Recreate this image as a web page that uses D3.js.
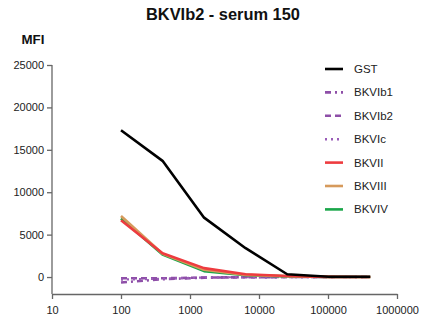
<!DOCTYPE html>
<html>
<head>
<meta charset="utf-8">
<script src="https://cdn.jsdelivr.net/npm/d3@7"></script>
<style>
  html, body { margin: 0; padding: 0; background: #fff; }
  svg { display: block; font-family: "Liberation Sans", Arial, sans-serif; }
</style>
</head>
<body>
<svg id="chart" width="425" height="321"></svg>
<script>
// Serum titration curves, MFI vs dilution (log x).

const dilutions = [100, 400, 1600, 6400, 25600, 102400, 409600];

const seriesNames = ["GST", "BKVIb1", "BKVIb2", "BKVIc", "BKVII", "BKVIII", "BKVIV"];
const gst    = [17300, 13700, 7000, 3400, 330, 40, 40];
const bkvib1 = [-650, -250, -80, -20, 0, 0, 0];
const bkvib2 = [-150, -150, -60, -20, 0, 0, 0];
const bkvic  = [-300, -200, -50, -10, 0, 0, 0];
const bkvii  = [6700, 2800, 1050, 330, 120, 20, 10];
const bkviii = [7200, 2750, 850, 250, 90, 20, 10];
const bkviv  = [6900, 2650, 700, 220, 80, 20, 10];

const xTicks = [10, 100, 1000, 10000, 100000, 1000000];
const yTicks = [0, 5000, 10000, 15000, 20000, 25000];

const styles = {
  GST:    { color: "#000000", dash: null, width: 2.6 },
  BKVIb1: { color: "#8e4fa8", dash: "6,4,2,4", width: 2.6 },
  BKVIb2: { color: "#8e4fa8", dash: "6,4", width: 2.6 },
  BKVIc:  { color: "#9a5cb8", dash: "2,4", width: 2.2 },
  BKVII:  { color: "#ee3b3f", dash: null, width: 2.6 },
  BKVIII: { color: "#d69a5c", dash: null, width: 2.6 },
  BKVIV:  { color: "#1aa64a", dash: null, width: 2.6 }
};

const values = [gst, bkvib1, bkvib2, bkvic, bkvii, bkviii, bkviv];
const series = seriesNames.map((name, i) => ({ name, values: values[i] }));

const svg = d3.select("#chart");

const x = d3.scaleLog().domain([10, 1000000]).range([52, 397]);
const y = d3.scaleLinear().domain([-2000, 25000]).range([294, 65]);

// title + y label
svg.append("text")
  .attr("x", 223).attr("y", 20)
  .attr("text-anchor", "middle")
  .style("font-size", "16.4px").style("font-weight", "bold")
  .attr("fill", "#111")
  .text("BKVIb2 - serum 150");

svg.append("text")
  .attr("x", 33).attr("y", 43.5)
  .attr("text-anchor", "middle")
  .style("font-size", "13.3px").style("font-weight", "bold")
  .attr("fill", "#111")
  .text("MFI");

// axes
const xAxis = d3.axisBottom(x).tickValues(xTicks).tickFormat(d3.format("d")).tickSize(5).tickSizeOuter(0);
const yAxis = d3.axisLeft(y).tickValues(yTicks).tickFormat(d3.format("d")).tickSize(5).tickSizeOuter(0);

const gx = svg.append("g").attr("transform", "translate(0,294)").call(xAxis);
const gy = svg.append("g").attr("transform", "translate(52,0)").call(yAxis);

[gx, gy].forEach(g => {
  g.select(".domain").attr("stroke", "#666").attr("stroke-width", 1.3);
  g.selectAll(".tick line").attr("stroke", "#666").attr("stroke-width", 1.3);
  g.selectAll(".tick text")
    .attr("fill", "#222")
    .style("font-size", "11px")
    .style("font-family", "'Liberation Sans', Arial, sans-serif");
});
gx.selectAll(".tick text").attr("dy", "1.05em");
gy.select(".domain").attr("d", `M-0,${y(25000)}V${y(-2000)}`);

// lines
const line = d3.line()
  .x((d, i) => x(dilutions[i]))
  .y(d => y(d));

const drawOrder = ["BKVIb1", "BKVIb2", "BKVIc", "BKVIV", "BKVIII", "BKVII", "GST"];
svg.append("g").selectAll("path")
  .data(drawOrder.map(n => series.find(s => s.name === n)))
  .join("path")
    .attr("d", d => line(d.values))
    .attr("fill", "none")
    .attr("stroke", d => styles[d.name].color)
    .attr("stroke-width", d => styles[d.name].width)
    .attr("stroke-dasharray", d => styles[d.name].dash)
    .attr("stroke-linejoin", "round");

// legend
const legend = svg.append("g");
const rows = legend.selectAll("g")
  .data(series)
  .join("g")
    .attr("transform", (d, i) => `translate(325,${69 + i * 23.4})`);

rows.append("line")
  .attr("x1", 0).attr("x2", 18)
  .attr("stroke", d => styles[d.name].color)
  .attr("stroke-width", 2.6)
  .attr("stroke-dasharray", d => styles[d.name].dash);

rows.append("text")
  .attr("x", 29).attr("y", 4)
  .style("font-size", "11.5px")
  .attr("fill", "#222")
  .text(d => d.name);
</script>
</body>
</html>
